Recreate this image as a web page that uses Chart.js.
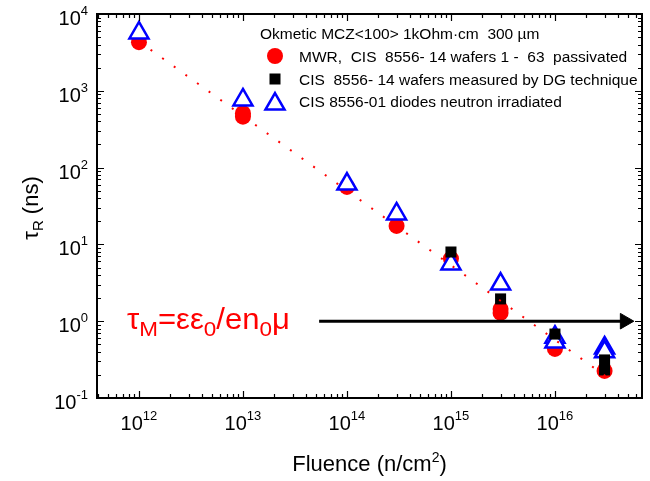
<!DOCTYPE html>
<html>
<head>
<meta charset="utf-8">
<script src="https://cdn.jsdelivr.net/npm/chart.js@4/dist/chart.umd.min.js"></script>
<style>
body { margin: 0; background: #fff; }
</style>
</head>
<body>
<canvas id="tauChart" width="650" height="481"></canvas>
<script>
// MWR, CIS 8556-14 wafers (red circles)
const mwrFluence = [1e12, 1e13, 1e13, 1e14, 3e14, 1e15, 3e15, 3e15, 1e16, 3e16];
const mwrTau = [4300, 510, 460, 56, 17.4, 6.5, 1.44, 1.28, 0.435, 0.225];
// DG technique (black squares)
const dgFluence = [1e15, 3e15, 1e16, 3e16, 3e16];
const dgTau = [7.96, 1.95, 0.68, 0.313, 0.232];
// neutron irradiated diodes (blue triangles)
const diodeFluence = [1e12, 1e13, 1e14, 3e14, 1e15, 3e15, 1e16, 1e16, 3e16, 3e16];
const diodeTau = [5660, 760, 61, 24.9, 5.56, 3.05, 0.62, 0.536, 0.448, 0.40];
// dotted guide line, end points
const fitFluence = [1e12, 3.2e16];
const fitTau = [4400, 0.185];
// tau_M arrow
const arrowFluence = [5.4e13, 4.7e16];
const arrowTau = [1, 1];

const xTickExponents = [12, 13, 14, 15, 16];
const yTickExponents = [-1, 0, 1, 2, 3, 4];

const legendTitle = 'Okmetic MCZ<100> 1kOhm\u00b7cm  300 \u00b5m';
const legendLabels = [
    'MWR,  CIS  8556- 14 wafers 1 -  63  passivated',
    'CIS  8556- 14 wafers measured by DG technique',
    'CIS 8556-01 diodes neutron irradiated'
];

const FONT = "'Liberation Sans', Arial, sans-serif";

function toPoints(xs, ys) {
    return xs.map((x, i) => ({ x: x, y: ys[i] }));
}

// draws a run of text pieces [text, size, dy] one after another
function drawRich(ctx, parts, x, y, align) {
    let total = 0;
    parts.forEach(p => {
        ctx.font = p[1] + 'px ' + FONT;
        total += ctx.measureText(p[0]).width;
    });
    let cx = x;
    if (align === 'center') cx = x - total / 2;
    if (align === 'right') cx = x - total;
    ctx.textAlign = 'left';
    ctx.textBaseline = 'alphabetic';
    parts.forEach(p => {
        ctx.font = p[1] + 'px ' + FONT;
        ctx.fillText(p[0], cx, y + p[2]);
        cx += ctx.measureText(p[0]).width;
    });
}

const framePlugin = {
    id: 'frame',
    afterDraw(chart) {
        const ctx = chart.ctx;
        const area = chart.chartArea;
        const xs = chart.scales.x;
        const ys = chart.scales.y;
        ctx.save();
        ctx.strokeStyle = '#000';
        ctx.fillStyle = '#000';

        // ticks, pointing inward on all four sides
        ctx.lineWidth = 1.2;
        ctx.beginPath();
        for (let n = 11; n <= 16; n++) {
            for (let k = 1; k <= 9; k++) {
                const v = k * Math.pow(10, n);
                if (v < xs.min || v > xs.max) continue;
                const px = Math.round(xs.getPixelForValue(v)) + 0.5;
                const len = k === 1 ? 7 : 4;
                ctx.moveTo(px, area.bottom); ctx.lineTo(px, area.bottom - len);
                ctx.moveTo(px, area.top); ctx.lineTo(px, area.top + len);
            }
        }
        for (let n = -1; n <= 4; n++) {
            for (let k = 1; k <= 9; k++) {
                const v = k * Math.pow(10, n);
                if (v < ys.min || v > ys.max * 1.0001) continue;
                const py = Math.round(ys.getPixelForValue(v)) + 0.5;
                const len = k === 1 ? 7 : 4;
                ctx.moveTo(area.left, py); ctx.lineTo(area.left + len, py);
                ctx.moveTo(area.right, py); ctx.lineTo(area.right - len, py);
            }
        }
        ctx.stroke();

        ctx.lineWidth = 2;
        ctx.strokeRect(area.left, area.top, area.right - area.left, area.bottom - area.top);

        // tick labels
        xTickExponents.forEach(e => {
            const px = xs.getPixelForValue(Math.pow(10, e));
            drawRich(ctx, [['10', 20, 0], [String(e), 13, -10]], px, 430, 'center');
        });
        yTickExponents.forEach(e => {
            const py = ys.getPixelForValue(Math.pow(10, e));
            drawRich(ctx, [['10', 20, 0], [String(e), 13, -10]], 88, py + 11, 'right');
        });

        // axis titles
        drawRich(ctx, [['Fluence (n/cm', 22, 0], ['2', 14, -9], [')', 22, 0]], (area.left + area.right) / 2, 471, 'center');
        ctx.save();
        ctx.translate(38, 208);
        ctx.rotate(-Math.PI / 2);
        drawRich(ctx, [['\u03c4', 22, 0], ['R', 15, 5], [' (ns)', 22, 0]], 0, 0, 'center');
        ctx.restore();

        // tau_M formula, slightly widened like the original
        ctx.fillStyle = '#ff0000';
        ctx.save();
        ctx.translate(127, 329);
        ctx.scale(1.07, 1);
        drawRich(ctx, [
            ['\u03c4', 29, 0], ['M', 21, 7], ['=\u03b5\u03b5', 29, 0], ['0', 21, 7],
            ['/en', 29, 0], ['0', 21, 7], ['\u03bc', 29, 0]
        ], 0, 0, 'left');
        ctx.restore();

        // legend
        ctx.fillStyle = '#000';
        drawRich(ctx, [[legendTitle, 15.5, 0]], 260, 39, 'left');
        const rows = [56, 79, 101];
        const mx = 275;
        ctx.fillStyle = '#ff0000';
        ctx.beginPath();
        ctx.arc(mx, rows[0], 8, 0, Math.PI * 2);
        ctx.fill();
        ctx.fillStyle = '#000';
        ctx.fillRect(mx - 5.5, rows[1] - 5.5, 11, 11);
        const r = 11;
        ctx.beginPath();
        for (let i = 0; i < 3; i++) {
            const a = i * 2 * Math.PI / 3;
            const tx = mx + Math.sin(a) * r;
            const ty = rows[2] + 3 - Math.cos(a) * r;
            if (i === 0) ctx.moveTo(tx, ty); else ctx.lineTo(tx, ty);
        }
        ctx.closePath();
        ctx.fillStyle = '#fff';
        ctx.fill();
        ctx.strokeStyle = '#0000ff';
        ctx.lineWidth = 2.5;
        ctx.stroke();
        ctx.fillStyle = '#000';
        legendLabels.forEach((t, i) => {
            drawRich(ctx, [[t, 15.5, 0]], 299, rows[i] + 5.5, 'left');
        });
        ctx.restore();
    }
};

const ctx = document.getElementById('tauChart').getContext('2d');
new Chart(ctx, {
    type: 'scatter',
    data: {
        datasets: [
            {
                label: 'arrow',
                data: toPoints(arrowFluence, arrowTau),
                showLine: true,
                borderColor: '#000',
                borderWidth: 3,
                pointRadius: [0, 9],
                pointStyle: 'triangle',
                rotation: 90,
                pointBackgroundColor: '#000',
                pointBorderColor: '#000',
                pointBorderWidth: 1,
                order: -1
            },
            {
                label: 'guide',
                data: toPoints(fitFluence, fitTau),
                showLine: true,
                borderColor: '#ff0000',
                borderWidth: 2,
                borderDash: [2, 12.3],
                pointRadius: 0,
                order: 0
            },
            {
                label: legendLabels[1],
                data: toPoints(dgFluence, dgTau),
                pointStyle: 'rect',
                pointRadius: 7.8,
                backgroundColor: '#000',
                borderColor: '#000',
                borderWidth: 0,
                order: 1
            },
            {
                label: legendLabels[2],
                data: toPoints(diodeFluence, diodeTau),
                pointStyle: 'triangle',
                pointRadius: 11,
                backgroundColor: '#fff',
                borderColor: '#0000ff',
                borderWidth: 2.5,
                order: 2
            },
            {
                label: legendLabels[0],
                data: toPoints(mwrFluence, mwrTau),
                pointStyle: 'circle',
                pointRadius: 8,
                backgroundColor: '#ff0000',
                borderColor: '#ff0000',
                borderWidth: 0,
                order: 3
            }
        ]
    },
    options: {
        responsive: false,
        animation: false,
        layout: { autoPadding: false, padding: { left: 97, right: 8, top: 14, bottom: 83 } },
        scales: {
            x: { type: 'logarithmic', min: 3.95e11, max: 6.87e16, display: false },
            y: { type: 'logarithmic', min: 0.1, max: 1e4, display: false }
        },
        plugins: {
            legend: { display: false },
            tooltip: { enabled: false }
        }
    },
    plugins: [framePlugin]
});
</script>
</body>
</html>
